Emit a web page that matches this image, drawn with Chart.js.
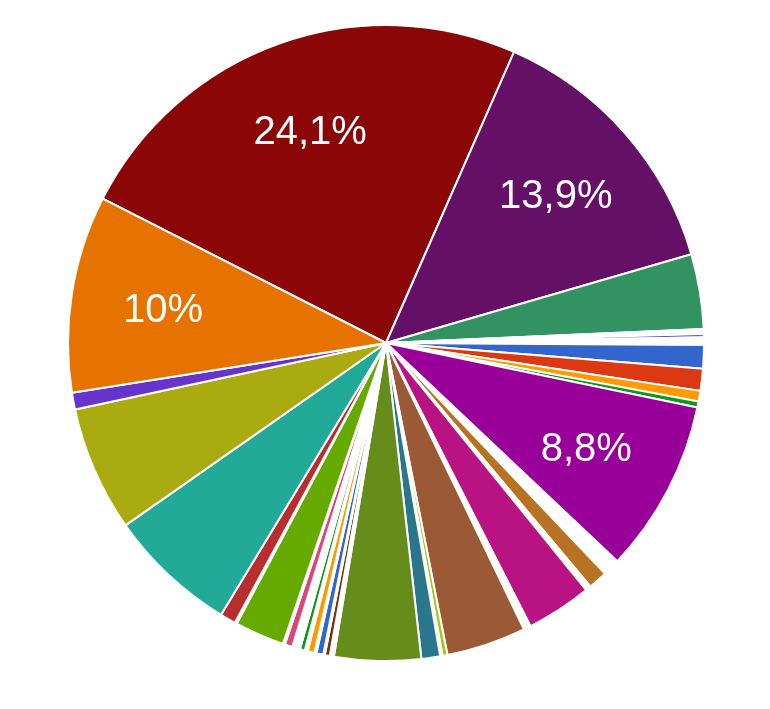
<!DOCTYPE html>
<html>
<head>
<meta charset="utf-8">
<script src="https://cdn.jsdelivr.net/npm/chart.js@4"></script>
<style>
    html, body { margin: 0; padding: 0; background: #fff; }
    #wrap { width: 770px; height: 709px; }
</style>
</head>
<body>
<div id="wrap"><canvas id="pie" width="770" height="709"></canvas></div>
<script>
// slices clockwise, starting with the big dark red one
// white entries are the thin empty wedges between coloured slices
let sliceValues = [24.1, 13.9, 3.8, 0.25, 0.17, 0.39, 1.18, 1.12, 0.54, 0.3,
    8.8, 0.87, 0.97, 0.28, 3.33, 0.36, 4.05, 0.25, 0.12, 0.95,
    4.4, 0.21, 0.25, 0.08, 0.35, 0.1, 0.35, 0.15, 0.25, 0.4,
    0.39, 0.1, 2.53, 0.1, 0.8, 6.6, 6.37, 0.85, 10.0];

let sliceColors = ['#8b0707', '#651067', '#329262', '#ffffff', '#3b3eac', '#ffffff', '#3366cc', '#dc3912', '#ff9900', '#109618',
    '#990099', '#ffffff', '#b77322', '#ffffff', '#b91383', '#ffffff', '#9c5935', '#a9c413', '#ffffff', '#2a778d',
    '#668d1c', '#ffffff', '#743411', '#ffffff', '#3366cc', '#ffffff', '#ff9900', '#ffffff', '#109618', '#ffffff',
    '#dd4477', '#ffffff', '#66aa00', '#ffffff', '#b82e2e', '#22aa99', '#aaaa11', '#6633cc', '#e67300'];

let sliceLabels = sliceValues.map(function (v, i) { return 'Slice ' + (i + 1); });

// only slices at least this big get a percentage written on them
let labelMin = 8;

let pctLabels = {
    id: 'pctLabels',
    afterDatasetsDraw: function (chart) {
        let ctx = chart.ctx;
        let meta = chart.getDatasetMeta(0);
        let total = sliceValues.reduce(function (a, b) { return a + b; }, 0);
        ctx.save();
        ctx.fillStyle = '#ffffff';
        ctx.font = '40px "Liberation Sans", Arial, sans-serif';
        ctx.textAlign = 'center';
        ctx.textBaseline = 'middle';
        meta.data.forEach(function (arc, i) {
            let pct = sliceValues[i] / total * 100;
            if (pct < labelMin) return;
            let p = arc.getProps(['x', 'y', 'startAngle', 'endAngle', 'outerRadius'], true);
            let mid = (p.startAngle + p.endAngle) / 2;
            let r = p.outerRadius * 0.71;
            let txt = (Math.round(pct * 10) / 10).toString().replace('.', ',') + '%';
            ctx.fillText(txt, p.x + Math.cos(mid) * r, p.y + Math.sin(mid) * r + 3);
        });
        ctx.restore();
    }
};

var pieChart = new Chart(document.getElementById('pie').getContext('2d'), {
    type: 'pie',
    data: {
        labels: sliceLabels,
        datasets: [{
            data: sliceValues,
            backgroundColor: sliceColors,
            borderColor: '#ffffff',
            borderWidth: 2
        }]
    },
    options: {
        responsive: false,
        animation: false,
        rotation: 297,
        layout: {
            padding: { left: 67, right: 65, top: 24, bottom: 47 }
        },
        plugins: {
            legend: { display: false },
            tooltip: { enabled: false }
        }
    },
    plugins: [pctLabels]
});
</script>
</body>
</html>
